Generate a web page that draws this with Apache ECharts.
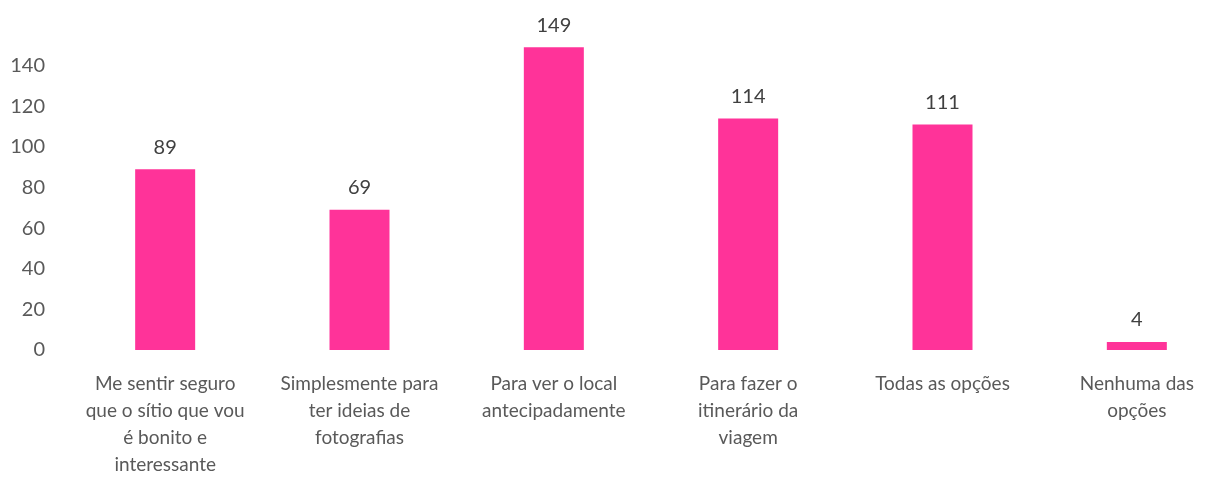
<!DOCTYPE html>
<html>
<head>
<meta charset="utf-8">
<script src="https://cdn.jsdelivr.net/npm/echarts@6/dist/echarts.min.js"></script>
<style>
  html, body { margin: 0; padding: 0; background: #fff; }
  #chart { width: 1208px; height: 478px; }
</style>
</head>
<body>
<div id="chart"></div>
<script>
var categories = [
  "Me sentir seguro\nque o sítio que vou\né bonito e\ninteressante",
  "Simplesmente para\nter ideias de\nfotografias",
  "Para ver o local\nantecipadamente",
  "Para fazer o\nitinerário da\nviagem",
  "Todas as opções",
  "Nenhuma das\nopções"
];
var values = [89, 69, 149, 114, 111, 4];
var yTicks = [0, 20, 40, 60, 80, 100, 120, 140];

(function () {
  var font = "Lato, 'Open Sans', sans-serif";
  var option = {
    animation: false,
    grid: {
      left: 68,
      width: 1166,
      top: 25,
      bottom: 128,
      outerBoundsMode: "none",
      containLabel: false
    },
    xAxis: {
      type: "category",
      data: categories,
      axisLine: { show: false },
      axisTick: { show: false },
      axisLabel: {
        color: "#595959",
        fontFamily: font,
        fontSize: 19,
        lineHeight: 27,
        margin: 20,
        interval: 0
      }
    },
    yAxis: {
      type: "value",
      min: 0,
      max: 160,
      interval: 20,
      axisLine: { show: false },
      axisTick: { show: false },
      splitLine: { show: false },
      axisLabel: {
        color: "#595959",
        fontFamily: font,
        fontSize: 20,
        margin: 23,
        formatter: function (v) {
          return yTicks.indexOf(v) >= 0 ? String(v) : "";
        }
      }
    },
    series: [
      {
        type: "bar",
        data: values,
        barWidth: 60,
        itemStyle: { color: "#ff3399" },
        label: {
          show: true,
          position: "top",
          distance: 12,
          color: "#404040",
          fontFamily: font,
          fontSize: 20
        }
      }
    ]
  };
  var myChart = echarts.init(document.getElementById("chart"));
  myChart.setOption(option);
})();
</script>
</body>
</html>
